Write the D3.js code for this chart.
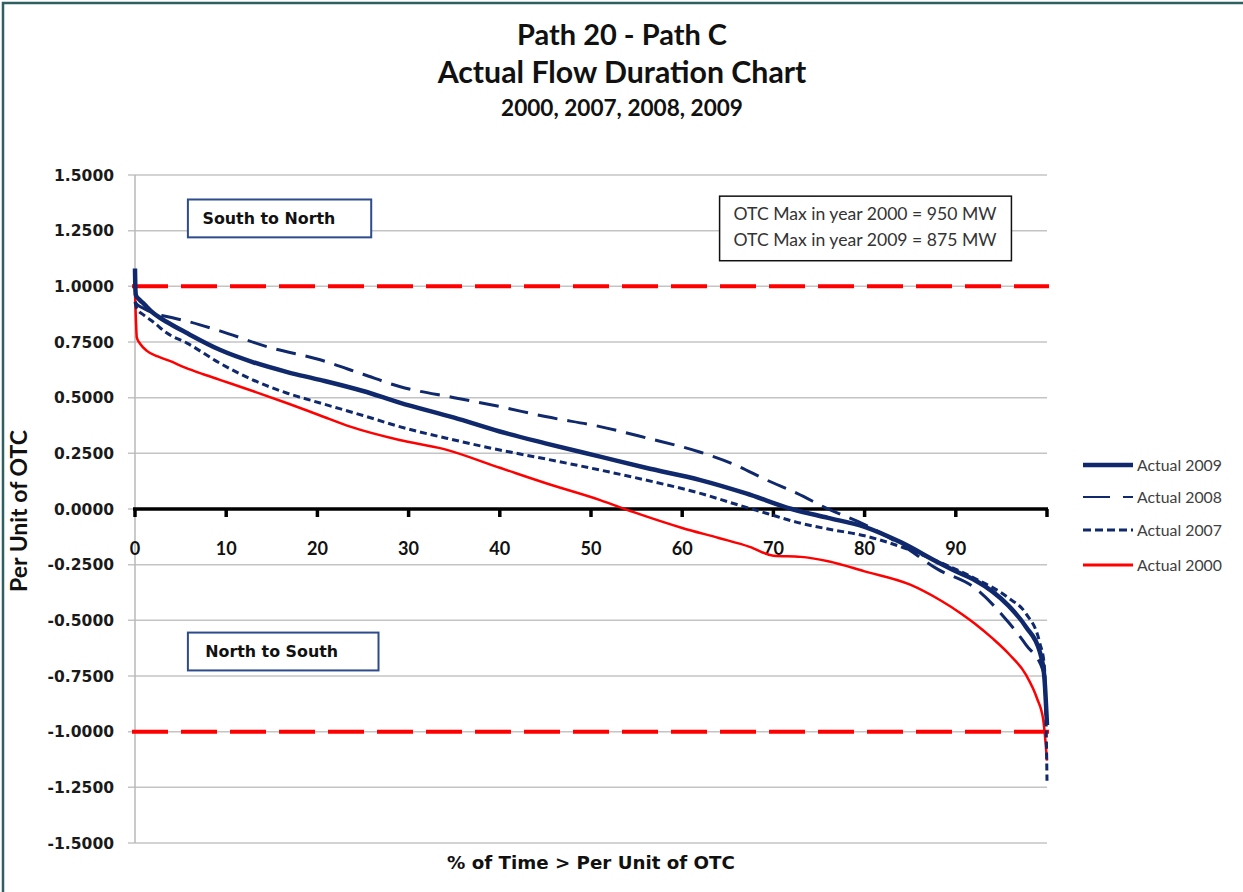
<!DOCTYPE html>
<html>
<head>
<meta charset="utf-8">
<script src="https://cdn.jsdelivr.net/npm/d3@7/dist/d3.min.js"></script>
<style>
  html, body { margin: 0; padding: 0; background: #fff; }
  svg { display: block; }
</style>
</head>
<body>
<svg id="chart" width="1243" height="892"></svg>
<script>
// ---------------- DATA ----------------
const titleLines = ["Path 20 - Path C", "Actual Flow Duration Chart", "2000, 2007, 2008, 2009"];
const yTicks = [1.5, 1.25, 1.0, 0.75, 0.5, 0.25, 0, -0.25, -0.5, -0.75, -1.0, -1.25, -1.5];
const xTicks = [0, 10, 20, 30, 40, 50, 60, 70, 80, 90, 100];
const xTickLabels = ["0", "10", "20", "30", "40", "50", "60", "70", "80", "90", ""];
const seriesNames = ["Actual 2009", "Actual 2008", "Actual 2007", "Actual 2000"];
const limitLines = [1.0, -1.0];
const otcNotes = ["OTC Max in year 2000 = 950 MW", "OTC Max in year 2009 = 875 MW"];
const directionLabels = ["South to North", "North to South"];

const pct2009 = [0, 0.05, 0.1, 0.5, 1, 2, 3.5, 5.7, 9.3, 12.9, 16.7, 20.3, 25, 29, 35, 40, 45, 51, 56, 62, 67, 72, 76, 80, 84, 88.3, 90, 92.1, 94, 95.8, 97.7, 99.2, 99.7, 100];
const val2009 = [1.08, 0.98, 0.96, 0.94, 0.92, 0.88, 0.84, 0.79, 0.715, 0.66, 0.615, 0.58, 0.53, 0.478, 0.41, 0.348, 0.295, 0.235, 0.185, 0.13, 0.07, 0.0, -0.04, -0.08, -0.15, -0.245, -0.28, -0.32, -0.37, -0.435, -0.53, -0.64, -0.75, -0.97];

const pct2008 = [0, 0.2, 1, 2, 4, 6, 9.3, 14.8, 20.3, 25, 29, 35, 40, 45, 51, 56, 62, 66, 69, 72.6, 76, 80, 84, 88, 92.1, 95.8, 97.7, 99.6, 100];
const val2008 = [0.93, 0.92, 0.9, 0.88, 0.86, 0.84, 0.8, 0.725, 0.67, 0.605, 0.55, 0.5, 0.46, 0.415, 0.37, 0.32, 0.255, 0.195, 0.135, 0.07, 0.0, -0.07, -0.16, -0.27, -0.355, -0.51, -0.61, -0.73, -0.97];

const pct2007 = [0, 0.2, 1, 2, 3.5, 5.7, 9.3, 12.9, 16.7, 20.3, 25, 29, 35, 40, 45, 51, 56, 62, 66, 69.3, 72.6, 76, 80, 84, 88, 92, 95.8, 97.7, 99.2, 99.7, 99.9, 100];
const val2007 = [0.93, 0.9, 0.87, 0.84, 0.79, 0.745, 0.655, 0.58, 0.52, 0.476, 0.42, 0.37, 0.31, 0.265, 0.225, 0.175, 0.13, 0.07, 0.02, -0.02, -0.06, -0.09, -0.12, -0.17, -0.235, -0.31, -0.40, -0.47, -0.6, -0.7, -0.95, -1.22];

const pct2000 = [0, 0.1, 0.2, 0.6, 1.3, 2.5, 3.8, 5.5, 7.5, 9.3, 12.9, 16.7, 20.3, 23.6, 29, 33.8, 40, 45.5, 51, 54.6, 60, 64, 67.4, 70, 73, 76, 80, 85, 88.3, 90.6, 92.1, 94, 95.8, 97.7, 98.9, 99.6, 100];
const val2000 = [0.97, 0.85, 0.77, 0.74, 0.71, 0.685, 0.665, 0.635, 0.605, 0.58, 0.53, 0.475, 0.42, 0.37, 0.31, 0.27, 0.185, 0.11, 0.04, -0.013, -0.085, -0.13, -0.17, -0.21, -0.215, -0.235, -0.28, -0.34, -0.41, -0.47, -0.515, -0.58, -0.65, -0.745, -0.85, -0.95, -1.13];

// ---------------- SETUP ----------------
const svg = d3.select("#chart");
const W = 1243, H = 892;
const plot = { left: 135, right: 1047, top: 175, bottom: 843 };
const x = d3.scaleLinear().domain([0, 100]).range([plot.left, plot.right]);
const y = d3.scaleLinear().domain([-1.5, 1.5]).range([plot.bottom, plot.top]);

const NAVY = "#10296c";
const RED = "#ff0000";
const SANS = "Lato, 'Open Sans', sans-serif";
const WIDE = "'DejaVu Sans', Verdana, sans-serif";

function fitSize(sel, target) {
  const node = sel.node();
  const w = node.getComputedTextLength();
  const fs = parseFloat(sel.style("font-size"));
  return fs * target / w;
}

svg.append("rect").attr("width", W).attr("height", H).attr("fill", "#fff");
// outer border (left/top visible)
svg.append("rect").attr("x", 3).attr("y", 3).attr("width", W + 20).attr("height", H + 20)
  .attr("fill", "none").attr("stroke", "#2f5f60").attr("stroke-width", 2.5);

// ---------------- TITLE ----------------
const titleSpec = [ {b: 45, w: 210}, {b: 83, w: 369}, {b: 116, w: 242} ];
titleLines.forEach((t, i) => {
  const el = svg.append("text").attr("x", 622).attr("y", titleSpec[i].b)
    .attr("text-anchor", "middle").attr("font-family", SANS).attr("font-weight", "bold")
    .style("font-size", "24px").attr("fill", "#111").text(t);
  el.style("font-size", fitSize(el, titleSpec[i].w) + "px");
});

// ---------------- GRID ----------------
svg.append("g").selectAll("line").data(yTicks).join("line")
  .attr("x1", plot.left - 7).attr("x2", plot.right)
  .attr("y1", d => y(d)).attr("y2", d => y(d))
  .attr("stroke", "#c4c4c4").attr("stroke-width", 1.5);

// y-axis line
svg.append("line").attr("x1", plot.left).attr("x2", plot.left)
  .attr("y1", plot.top).attr("y2", plot.bottom)
  .attr("stroke", "#b8b8b8").attr("stroke-width", 1.5);

// y tick labels
const yLab = svg.append("g").selectAll("text").data(yTicks).join("text")
  .attr("x", 114).attr("y", d => y(d)).attr("dy", "0.36em")
  .attr("text-anchor", "end").attr("font-family", WIDE).attr("font-weight", "bold")
  .style("font-size", "15px").attr("fill", "#1a1a1a")
  .text(d => d3.format(".4f")(d).replace("−", "-"));
{
  const first = d3.select(yLab.nodes()[0]);
  const fs = fitSize(first, 60);
  yLab.style("font-size", fs + "px");
}

// ---------------- LIMIT LINES ----------------
svg.append("g").selectAll("line").data(limitLines).join("line")
  .attr("x1", x(0) - 3).attr("x2", x(100) + 2)
  .attr("y1", d => y(d)).attr("y2", d => y(d))
  .attr("stroke", RED).attr("stroke-width", 4).attr("stroke-dasharray", "36,13");

// ---------------- ZERO AXIS ----------------
svg.append("line").attr("x1", x(0) - 2).attr("x2", x(100) + 1)
  .attr("y1", y(0)).attr("y2", y(0)).attr("stroke", "#000").attr("stroke-width", 3.5);
svg.append("g").selectAll("line").data(xTicks).join("line")
  .attr("x1", d => x(d)).attr("x2", d => x(d))
  .attr("y1", y(0)).attr("y2", y(0) + 8)
  .attr("stroke", "#000").attr("stroke-width", 3.5);

const xLab = svg.append("g").selectAll("text").data(xTicks).join("text")
  .attr("x", d => x(d)).attr("y", 548).attr("dy", "0.36em")
  .attr("text-anchor", "middle").attr("font-family", SANS).attr("font-weight", "bold")
  .style("font-size", "18px").attr("fill", "#111")
  .text((d, i) => xTickLabels[i]);
{
  const ref = d3.select(xLab.nodes()[1]);
  const fs = fitSize(ref, 21);
  xLab.style("font-size", fs + "px");
}

// ---------------- SERIES ----------------
const series = [
  { name: seriesNames[3], xs: pct2000, ys: val2000, color: RED, width: 2.5, dash: null },
  { name: seriesNames[2], xs: pct2007, ys: val2007, color: NAVY, width: 3, dash: "7,4" },
  { name: seriesNames[1], xs: pct2008, ys: val2008, color: NAVY, width: 3, dash: "20,10" },
  { name: seriesNames[0], xs: pct2009, ys: val2009, color: NAVY, width: 4.5, dash: null }
];
const line = d3.line().x(d => x(d[0])).y(d => y(d[1])).curve(d3.curveMonotoneX);
series.forEach(s => {
  const pts = s.xs.map((v, i) => [v, s.ys[i]]);
  svg.append("path").datum(pts).attr("d", line)
    .attr("fill", "none").attr("stroke", s.color).attr("stroke-width", s.width)
    .attr("stroke-linejoin", "round")
    .attr("stroke-dasharray", s.dash);
});

// ---------------- AXIS TITLES ----------------
{
  const t = svg.append("text").attr("transform", "translate(27,511) rotate(-90)")
    .attr("text-anchor", "middle").attr("font-family", SANS).attr("font-weight", "bold")
    .style("font-size", "18px").attr("fill", "#111").text("Per Unit of OTC");
  t.style("font-size", fitSize(t, 162) + "px");
  const xt = svg.append("text").attr("x", 591).attr("y", 869)
    .attr("text-anchor", "middle").attr("font-family", WIDE).attr("font-weight", "bold")
    .style("font-size", "16px").attr("fill", "#111").text("% of Time > Per Unit of OTC");
  xt.style("font-size", fitSize(xt, 288) + "px");
}

// ---------------- ANNOTATION BOXES ----------------
const dirBoxes = [
  { text: directionLabels[0], x0: 5.8, x1: 25.9, yTop: 1.39, yBot: 1.22, tx: 7.4 },
  { text: directionLabels[1], x0: 5.8, x1: 26.7, yTop: -0.555, yBot: -0.725, tx: 7.7 }
];
dirBoxes.forEach(b => {
  svg.append("rect").attr("x", x(b.x0)).attr("y", y(b.yTop))
    .attr("width", x(b.x1) - x(b.x0)).attr("height", y(b.yBot) - y(b.yTop))
    .attr("fill", "#fff").attr("stroke", "#2e4b8c").attr("stroke-width", 2);
  const t = svg.append("text").attr("x", x(b.tx)).attr("y", (y(b.yTop) + y(b.yBot)) / 2)
    .attr("dy", "0.36em").attr("font-family", WIDE).attr("font-weight", "bold")
    .style("font-size", "14px").attr("fill", "#111").text(b.text);
  t.style("font-size", fitSize(t, 133) + "px");
});

// OTC box
{
  const bx0 = x(64.1), bx1 = x(96.1), byT = y(1.405), byB = y(1.115);
  svg.append("rect").attr("x", bx0).attr("y", byT).attr("width", bx1 - bx0).attr("height", byB - byT)
    .attr("fill", "#fff").attr("stroke", "#111").attr("stroke-width", 1.5);
  const ys = [214, 240];
  const texts = otcNotes.map((n, i) => svg.append("text").attr("x", (bx0 + bx1) / 2 - 0.5).attr("y", ys[i])
    .attr("dy", "0.36em").attr("text-anchor", "middle").attr("font-family", SANS)
    .style("font-size", "16px").attr("fill", "#333").text(n));
  const fs = fitSize(texts[0], 263);
  texts.forEach(t => t.style("font-size", fs + "px"));
}

// ---------------- LEGEND ----------------
const legendSpec = [
  { name: seriesNames[0], color: NAVY, width: 4.5, dash: null, y: 465 },
  { name: seriesNames[1], color: NAVY, width: 2.2, dash: "27,13", y: 497 },
  { name: seriesNames[2], color: NAVY, width: 3, dash: "8,4", y: 530 },
  { name: seriesNames[3], color: RED, width: 3, dash: null, y: 565 }
];
const lg = svg.append("g");
legendSpec.forEach(l => {
  lg.append("line").attr("x1", 1083).attr("x2", 1133).attr("y1", l.y).attr("y2", l.y)
    .attr("stroke", l.color).attr("stroke-width", l.width).attr("stroke-dasharray", l.dash);
});
const lgText = legendSpec.map(l => lg.append("text").attr("x", 1137).attr("y", l.y).attr("dy", "0.36em")
  .attr("font-family", SANS).style("font-size", "15px").attr("fill", "#404040").text(l.name));
{
  const fs = fitSize(lgText[0], 85);
  lgText.forEach(t => t.style("font-size", fs + "px"));
}
</script>
</body>
</html>
